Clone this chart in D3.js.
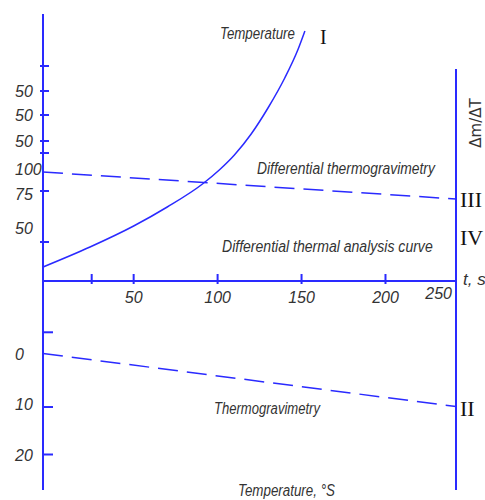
<!DOCTYPE html>
<html>
<head>
<meta charset="utf-8">
<script src="https://cdn.jsdelivr.net/npm/d3@7"></script>
<style>
  body { margin: 0; background: #fff; }
  svg { display: block; }
  .lbl { font-family: "Liberation Sans", Arial, sans-serif; font-style: italic; fill: #333; }
  .roman { font-family: "Liberation Serif", "DejaVu Serif", serif; fill: #111; }
</style>
</head>
<body>
<svg id="chart"></svg>
<script>
// time axis (t, s)
const timeTicks = [25, 50, 100, 150, 200];
const timeLabels = [50, 100, 150, 200];

// curve I - temperature vs time
const tempT = [-4, 24, 50, 70, 91, 101, 110, 120, 130, 140, 148, 152];
const tempV = [14, 34, 55, 74, 97, 111, 126, 147, 173, 203, 232, 250];

// curve III - differential thermogravimetry (dashed)
const dtgT = [-4, 242];
const dtgV = [109, 82];

// curve II - thermogravimetry (dashed, lower panel)
const tgT = [-4, 242];
const tgV = [0, 10.5];

// left axis, upper part
const upperTicks = [215, 190, 166, 140, 128, 90, 39];
const upperLabelVals = [190, 166, 140, 112, 87, 53];
const upperLabelText = ["50", "50", "50", "100", "75", "50"];

// left axis, lower part
const lowerTicks = [-4.2, 10.6, 20];
const lowerLabels = [0, 10, 20];

(function() {
    const width = 485;
    const height = 500;
    const blue = "#2a2aff";

    const svg = d3.select("#chart")
        .attr("width", width)
        .attr("height", height);

    // --- SCALES ---
    const x = d3.scaleLinear().domain([-4, 242]).range([43, 456]);
    const yTop = d3.scaleLinear().domain([0, 270]).range([281, 11]);
    const yLow = d3.scaleLinear().domain([0, 20]).range([353.5, 454.5]);

    const x0 = x(-4), x1 = x(242);
    const axisY = yTop(0);

    // --- AXES ---
    const axes = svg.append("g").attr("stroke", blue).attr("stroke-width", 2).attr("fill", "none");
    axes.append("line").attr("x1", x0).attr("x2", x0).attr("y1", 14).attr("y2", 490);
    axes.append("line").attr("x1", x1).attr("x2", x1).attr("y1", 69).attr("y2", 490);
    axes.append("line").attr("x1", x0).attr("x2", x1).attr("y1", axisY).attr("y2", axisY);

    axes.selectAll(".tt")
        .data(timeTicks)
        .join("line")
        .attr("x1", d => x(d)).attr("x2", d => x(d))
        .attr("y1", axisY - 7).attr("y2", axisY + 3);

    axes.selectAll(".ut")
        .data(upperTicks)
        .join("line")
        .attr("x1", x0 - 3).attr("x2", x0 + 6)
        .attr("y1", d => yTop(d)).attr("y2", d => yTop(d));

    axes.selectAll(".lt")
        .data(lowerTicks)
        .join("line")
        .attr("x1", x0).attr("x2", x0 + 10)
        .attr("y1", d => yLow(d)).attr("y2", d => yLow(d));

    // --- CURVES ---
    const tempLine = d3.line()
        .x(d => x(d[0]))
        .y(d => yTop(d[1]))
        .curve(d3.curveMonotoneX);

    svg.append("path")
        .datum(d3.zip(tempT, tempV))
        .attr("d", tempLine)
        .attr("fill", "none")
        .attr("stroke", blue)
        .attr("stroke-width", 1.5);

    svg.append("path")
        .datum(d3.zip(dtgT, dtgV))
        .attr("d", d3.line().x(d => x(d[0])).y(d => yTop(d[1])))
        .attr("fill", "none")
        .attr("stroke", blue)
        .attr("stroke-width", 1.5)
        .attr("stroke-dasharray", "20 9");

    svg.append("path")
        .datum(d3.zip(tgT, tgV))
        .attr("d", d3.line().x(d => x(d[0])).y(d => yLow(d[1])))
        .attr("fill", "none")
        .attr("stroke", blue)
        .attr("stroke-width", 1.5)
        .attr("stroke-dasharray", "20 9");

    // --- TICK LABELS ---
    const fs = "16px";
    svg.append("g").selectAll("text")
        .data(timeLabels)
        .join("text")
        .attr("class", "lbl")
        .attr("x", d => x(d))
        .attr("y", axisY + 22)
        .attr("text-anchor", "middle")
        .attr("font-size", fs)
        .text(d => d);
    svg.append("text").attr("class", "lbl")
        .attr("x", x1 - 4).attr("y", axisY + 18)
        .attr("text-anchor", "end").attr("font-size", fs).text("250");

    svg.append("g").selectAll("text")
        .data(upperLabelVals)
        .join("text")
        .attr("class", "lbl")
        .attr("x", 15)
        .attr("y", d => yTop(d) + 6)
        .attr("font-size", fs)
        .text((d, i) => upperLabelText[i]);

    svg.append("g").selectAll("text")
        .data(lowerLabels)
        .join("text")
        .attr("class", "lbl")
        .attr("x", 15)
        .attr("y", d => yLow(d) + 6)
        .attr("font-size", fs)
        .text(d => d);

    // --- CURVE / AXIS NAMES ---
    // narrow drafting-style lettering: squeeze each name to its width in the drawing
    const names = [
        { t: "Temperature", x: 220, y: 39, w: 75 },
        { t: "Differential thermogravimetry", x: 257, y: 174, w: 178 },
        { t: "Differential thermal analysis curve", x: 222, y: 252, w: 211 },
        { t: "Thermogravimetry", x: 214, y: 414, w: 106 },
        { t: "Temperature, °S", x: 238, y: 496, w: 97 }
    ];
    svg.append("g").selectAll("text")
        .data(names)
        .join("text")
        .attr("class", "lbl")
        .attr("font-size", "17px")
        .text(d => d.t)
        .attr("transform", function(d) {
            const k = d.w / this.getComputedTextLength();
            return `translate(${d.x},${d.y}) scale(${k},1)`;
        });

    svg.append("text").attr("class", "lbl")
        .attr("x", 463).attr("y", 285)
        .attr("font-size", "17px").text("t, s");

    svg.append("text")
        .attr("transform", "translate(481,123) rotate(-90)")
        .attr("text-anchor", "middle")
        .attr("font-family", "DejaVu Sans, sans-serif")
        .attr("font-size", "15px")
        .attr("fill", "#333")
        .text("Δm/ΔT");

    // --- ROMAN NUMERALS ---
    const romans = [
        { t: "I", x: 320, y: 44, s: 20 },
        { t: "III", x: 460, y: 207, s: 22 },
        { t: "IV", x: 460, y: 245, s: 22 },
        { t: "II", x: 460, y: 416, s: 22 }
    ];
    svg.append("g").selectAll("text")
        .data(romans)
        .join("text")
        .attr("class", "roman")
        .attr("x", d => d.x).attr("y", d => d.y)
        .attr("font-size", d => d.s + "px")
        .text(d => d.t);
})();
</script>
</body>
</html>
